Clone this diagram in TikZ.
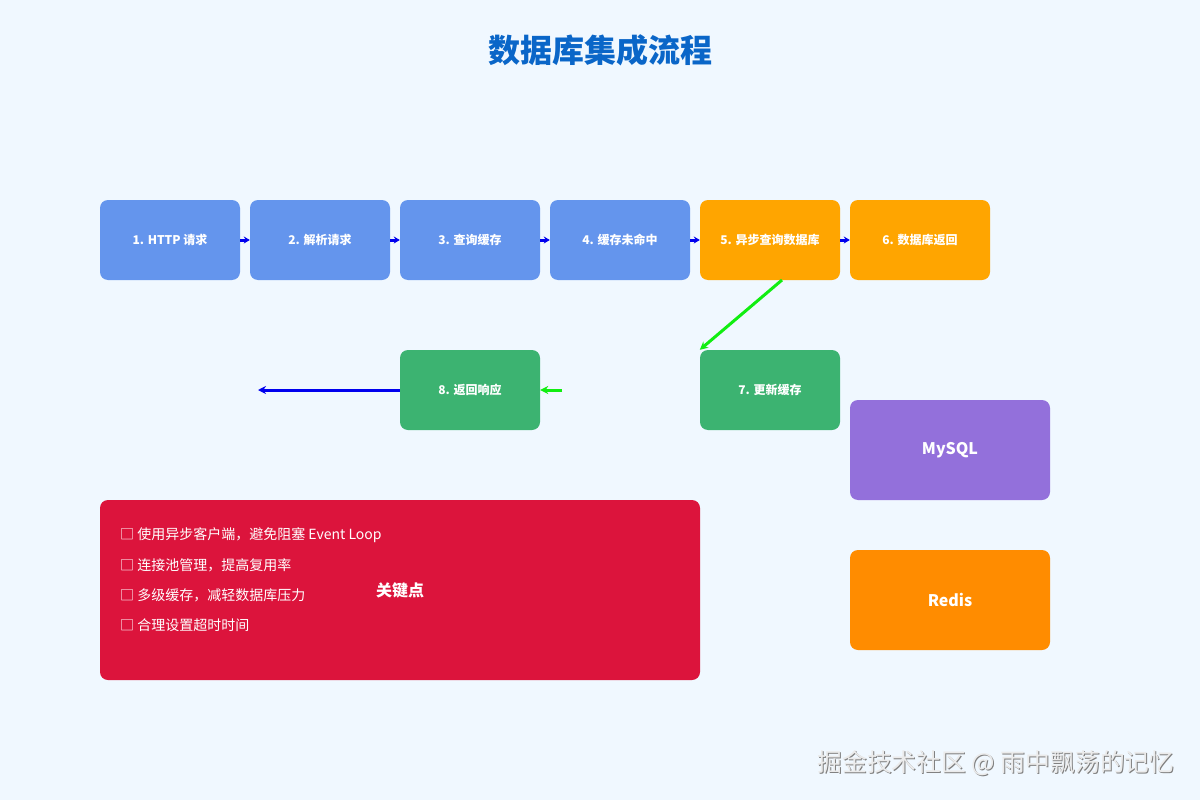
\documentclass[tikz,border=0pt]{standalone}
\usepackage{fontspec}
\setmainfont{Noto Sans CJK SC}
\usetikzlibrary{arrows.meta}
\definecolor{bg}{HTML}{F0F8FF}
\definecolor{stepblue}{HTML}{6495ED}
\definecolor{steporange}{HTML}{FFA500}
\definecolor{stepgreen}{HTML}{3CB371}
\definecolor{mysqlc}{HTML}{9370DB}
\definecolor{redisc}{HTML}{FF8C00}
\definecolor{keyc}{HTML}{DC143C}
\definecolor{titlec}{HTML}{0A66C8}
\definecolor{arrblue}{HTML}{0000EE}
\definecolor{arrgreen}{HTML}{11EE11}
\tikzset{
  stepbox/.style={rounded corners=8pt, minimum width=140pt, minimum height=80pt, inner sep=0pt, text=white, font=\fontsize{12}{14}\selectfont\bfseries},
  dbbox/.style={rounded corners=8pt, minimum width=200pt, minimum height=100pt, inner sep=0pt, text=white, font=\fontsize{16}{18}\selectfont\bfseries},
  flowarrow/.style={draw=arrblue, line width=3pt, -{Stealth[length=6pt,width=7pt]}},
  greenarrow/.style={draw=arrgreen, line width=3pt, -{Stealth[length=8pt,width=8pt]}},
  bullet/.style={anchor=west, text=white, inner sep=0pt, font=\fontsize{14}{16}\selectfont},
  wmtext/.style={anchor=east, font=\fontsize{24.8}{28}\selectfont},
}
\begin{document}
\begin{tikzpicture}[x=1pt,y=-1pt]
\fill[bg] (0,0) rectangle (1200,800);
\useasboundingbox (0,0) rectangle (1200,800);
\node[text=titlec, font=\fontsize{32}{36}\selectfont\bfseries] (title) at (600,50) {数据库集成流程};
% top row
\node[stepbox, fill=stepblue] (s1) at (170,240) {1. HTTP 请求};
\node[stepbox, fill=stepblue] (s2) at (320,240) {2. 解析请求};
\node[stepbox, fill=stepblue] (s3) at (470,240) {3. 查询缓存};
\node[stepbox, fill=stepblue] (s4) at (620,240) {4. 缓存未命中};
\node[stepbox, fill=steporange] (s5) at (770,240) {5. 异步查询数据库};
\node[stepbox, fill=steporange] (s6) at (920,240) {6. 数据库返回};
\node[stepbox, fill=stepgreen] (s7) at (770,390) {7. 更新缓存};
\node[stepbox, fill=stepgreen] (s8) at (470,390) {8. 返回响应};
\node[dbbox, fill=mysqlc] (mysql) at (950,450) {MySQL};
\node[dbbox, fill=redisc] (redis) at (950,600) {Redis};
% key points
\node[rounded corners=8pt, fill=keyc, minimum width=600pt, minimum height=180pt, inner sep=0pt] (key) at (400,590) {};
\node[text=white, font=\fontsize{16}{18}\selectfont\bfseries] (keylabel) at (400,590) {关键点};
\node[bullet] (b1) at (120,535) {□ 使用异步客户端，避免阻塞 Event Loop};
\node[bullet] (b2) at (120,565) {□ 连接池管理，提高复用率};
\node[bullet] (b3) at (120,595) {□ 多级缓存，减轻数据库压力};
\node[bullet] (b4) at (120,625) {□ 合理设置超时时间};
% arrows
\draw[flowarrow] (s1.east) -- (s2.west);
\draw[flowarrow] (s2.east) -- (s3.west);
\draw[flowarrow] (s3.east) -- (s4.west);
\draw[flowarrow] (s4.east) -- (s5.west);
\draw[flowarrow] (s5.east) -- (s6.west);
\coordinate (c5) at (782,280);
\draw[greenarrow] (c5) -- (s7.north west);
\coordinate (c7) at (562,390);
\draw[greenarrow] (c7) -- (s8.east);
\coordinate (cend) at (258,390);
\draw[flowarrow, -{Stealth[length=8pt,width=8pt]}] (s8.west) -- (cend);
% watermark
\node[wmtext, text=black!50] (wmshadow) at (1179,764) {掘金技术社区 @ 雨中飘荡的记忆};
\node[wmtext, text=white!92!black] (wm) at (1178,763) {掘金技术社区 @ 雨中飘荡的记忆};
\end{tikzpicture}
\end{document}
